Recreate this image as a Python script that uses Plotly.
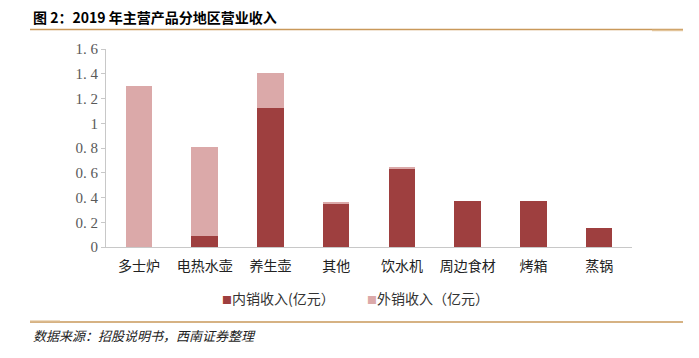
import plotly.graph_objects as go

categories = ["多士炉", "电热水壶", "养生壶", "其他", "饮水机", "周边食材", "烤箱", "蒸锅"]
domestic = [0.0, 0.09, 1.12, 0.35, 0.635, 0.375, 0.37, 0.157]
overseas = [1.30, 0.72, 0.29, 0.012, 0.01, 0.0, 0.0, 0.0]
series_names = ["内销收入(亿元）", "外销收入（亿元）"]
y_ticks = [0, 0.2, 0.4, 0.6, 0.8, 1.0, 1.2, 1.4, 1.6]
y_tick_labels = ["0", "0. 2", "0. 4", "0. 6", "0. 8", "1", "1. 2", "1. 4", "1. 6"]
title_text = "图 2：2019 年主营产品分地区营业收入"
source_text = "数据来源：招股说明书，西南证券整理"

# page body has an 8px margin; work in reference-pixel coordinates minus it
OFF = 8
W, H = 699 - 2 * OFF, 358 - 2 * OFF
plot_left, plot_right = 106 - OFF, 632 - OFF
plot_top, plot_bottom = 49 - OFF, 246.7 - OFF
L, R, T, B = plot_left, W - plot_right, plot_top, H - plot_bottom
pw, ph = plot_right - plot_left, plot_bottom - plot_top


def px(x):
    return (x - OFF - L) / pw


def py(y):
    return (plot_bottom - (y - OFF)) / ph


serif = "Liberation Serif, Noto Sans CJK SC, serif"
cjk = "Noto Sans CJK SC, sans-serif"
colors = ["#9E3F3F", "#DBA9A9"]

fig = go.Figure()
fig.add_trace(go.Bar(x=categories, y=domestic, name=series_names[0],
                     marker=dict(color=colors[0], line=dict(width=0)), showlegend=False))
fig.add_trace(go.Bar(x=categories, y=overseas, name=series_names[1],
                     marker=dict(color=colors[1], line=dict(width=0)), showlegend=False))

gold = "#C9995A"
gold_light = "#E2C49A"

legend_annotations = []
legend_x = [220, 365]
for name, col, lx in zip(series_names, colors, legend_x):
    legend_annotations.append(dict(
        text="<span style='color:%s;font-size:10px'>■</span>%s" % (col, name),
        xref="paper", yref="paper", x=px(lx), y=py(298), xanchor="left", yanchor="middle",
        showarrow=False, font=dict(family=cjk, size=14, color="#333333")))

fig.update_layout(
    width=W, height=H,
    margin=dict(l=L, r=R, t=T, b=B, autoexpand=False),
    paper_bgcolor="white", plot_bgcolor="white",
    barmode="stack", bargap=0.6,
    showlegend=False,
    xaxis=dict(showline=True, linecolor="#C8C8C8", linewidth=1, ticks="",
               tickfont=dict(family=cjk, size=14, color="#222222"), ticklabelstandoff=6),
    yaxis=dict(range=[0, 1.6], tickvals=y_ticks, ticktext=y_tick_labels,
               showgrid=False, zeroline=False, showline=True, linecolor="#C8C8C8",
               linewidth=1, ticks="outside", ticklen=4, tickcolor="#C8C8C8",
               tickfont=dict(family=serif, size=15, color="#595959")),
    shapes=[
        dict(type="line", xref="paper", yref="paper", x0=px(30), x1=px(683),
             y0=py(29.5), y1=py(29.5), line=dict(color=gold, width=1.5)),
        dict(type="line", xref="paper", yref="paper", x0=px(652), x1=px(683),
             y0=py(30.5), y1=py(30.5), line=dict(color=gold_light, width=1.5)),
        dict(type="line", xref="paper", yref="paper", x0=px(30), x1=px(683),
             y0=py(321.5), y1=py(321.5), line=dict(color=gold, width=1.5)),
        dict(type="line", xref="paper", yref="paper", x0=px(30), x1=px(60),
             y0=py(320.5), y1=py(320.5), line=dict(color=gold_light, width=1)),
    ],
    annotations=[
        dict(text="<b>" + title_text + "</b>", xref="paper", yref="paper",
             x=px(31), y=py(17.5), xanchor="left", yanchor="middle", showarrow=False,
             font=dict(family=cjk, size=14, color="#000000")),
        dict(text="<i>" + source_text + "</i>", xref="paper", yref="paper",
             x=px(31), y=py(335), xanchor="left", yanchor="middle", showarrow=False,
             font=dict(family=cjk, size=13, color="#222222")),
    ] + legend_annotations,
)

fig.write_html("out.html")
